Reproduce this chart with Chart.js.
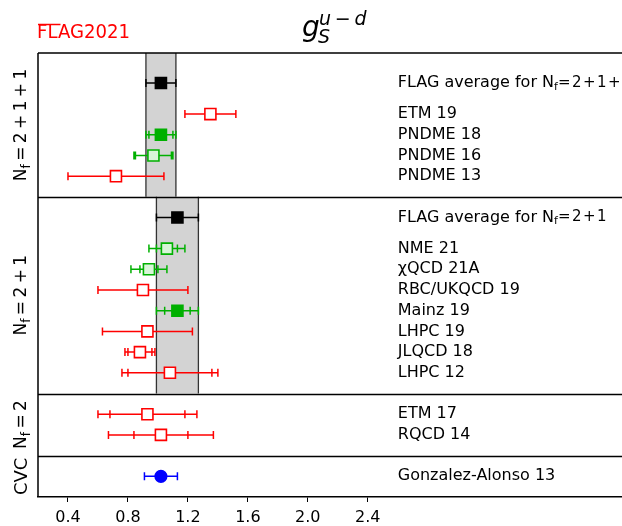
<!DOCTYPE html>
<html>
<head>
<meta charset="utf-8">
<script src="https://cdn.jsdelivr.net/npm/chart.js@4.4.0/dist/chart.umd.min.js"></script>
<style>
    html, body { margin: 0; padding: 0; background: #fff; overflow: hidden; }
    #wrap { width: 680px; height: 526px; position: relative; }
</style>
</head>
<body>
<div id="wrap"><canvas id="flag-chart" width="680" height="526"></canvas></div>
<script>
// Results, top to bottom
const names = ['FLAG average for N_f=2+1+1', 'ETM 19', 'PNDME 18', 'PNDME 16', 'PNDME 13',
    'FLAG average for N_f=2+1', 'NME 21', '\u03c7QCD 21A', 'RBC/UKQCD 19', 'Mainz 19', 'LHPC 19',
    'JLQCD 18', 'LHPC 12', 'ETM 17', 'RQCD 14', 'Gonzalez-Alonso 13'];
const rowPos = [20, 18.5, 17.5, 16.5, 15.5, 13.5, 12, 11, 10, 9, 8, 7, 6, 4, 3, 1];
const values = [1.02, 1.35, 1.02, 0.97, 0.72, 1.13, 1.06, 0.94, 0.90, 1.13, 0.93, 0.88, 1.08, 0.93, 1.02, 1.02];
const statErr = [null, null, 0.08, 0.12, null, null, 0.07, 0.06, null, 0.085, null, 0.08, 0.28, 0.25, 0.18, null];
const totalErr = [0.10, 0.17, 0.10, 0.13, 0.32, 0.14, 0.12, 0.12, 0.30, 0.14, 0.30, 0.10, 0.32, 0.33, 0.35, 0.11];
const markerKind = ['avg', 'red', 'greenFull', 'greenOpen', 'red', 'avg', 'greenOpen', 'greenOpen', 'red',
    'greenFull', 'red', 'red', 'red', 'red', 'red', 'blue'];

// Sections (bottom .. top in y units) and their side labels
const sectionLabels = [['N', 'f', '\u2009=\u20092\u2009+\u20091\u2009+\u20091'], ['N', 'f', '\u2009=\u20092\u2009+\u20091'], ['N', 'f', '\u2009=\u20092'], ['CVC']];
const sectionTop = [21.45, 14.5, 5, 2];
const sectionBottom = [14.5, 5, 2, 0];
const bandRows = [0, 5]; // FLAG averages that get a grey band
const tickValues = [0.4, 0.8, 1.2, 1.6, 2.0, 2.4];
const labelX = 2.6;

const FONT = 'DejaVu Sans';
const kindStyle = {
    avg:       { fill: '#000000', line: '#000000', shape: 'rect' },
    red:       { fill: '#ffffff', line: '#ff0000', shape: 'rect' },
    greenFull: { fill: '#00b000', line: '#00b000', shape: 'rect' },
    greenOpen: { fill: '#d8f5d8', line: '#00b000', shape: 'rect' },
    blue:      { fill: '#0000ff', line: '#0000ff', shape: 'circle' }
};

// draws a run of text pieces: [text, size, dy]
function drawPieces(ctx, pieces, x, y, centered) {
    let total = 0;
    pieces.forEach(p => { ctx.font = p[1] + 'px "' + FONT + '"'; total += ctx.measureText(p[0]).width; });
    let cx = centered ? x - total / 2 : x;
    ctx.textAlign = 'left';
    pieces.forEach(p => {
        ctx.font = p[1] + 'px "' + FONT + '"';
        ctx.fillText(p[0], cx, y + p[2]);
        cx += ctx.measureText(p[0]).width;
    });
}

const flagDecor = {
    id: 'flagDecor',
    beforeDatasetsDraw(chart) {
        const { ctx, chartArea: a, scales: { x, y } } = chart;
        ctx.save();
        // grey bands of the averages
        bandRows.forEach((r, i) => {
            const x0 = x.getPixelForValue(values[r] - totalErr[r]);
            const x1 = x.getPixelForValue(values[r] + totalErr[r]);
            const y0 = y.getPixelForValue(sectionTop[i]);
            const y1 = y.getPixelForValue(sectionBottom[i]);
            ctx.fillStyle = '#d3d3d3';
            ctx.fillRect(x0, y0, x1 - x0, y1 - y0);
            ctx.strokeStyle = '#333';
            ctx.lineWidth = 1.3;
            ctx.beginPath();
            ctx.moveTo(x0, y0); ctx.lineTo(x0, y1);
            ctx.moveTo(x1, y0); ctx.lineTo(x1, y1);
            ctx.stroke();
        });
        // section separators
        ctx.strokeStyle = '#000';
        ctx.lineWidth = 1.5;
        sectionBottom.slice(0, 3).forEach(v => {
            const py = Math.round(y.getPixelForValue(v)) + 0.5;
            ctx.beginPath(); ctx.moveTo(a.left, py); ctx.lineTo(a.right, py); ctx.stroke();
        });
        // error bars
        values.forEach((v, i) => {
            const col = kindStyle[markerKind[i]].line;
            const py = y.getPixelForValue(rowPos[i]);
            const lo = x.getPixelForValue(v - totalErr[i]);
            const hi = x.getPixelForValue(v + totalErr[i]);
            ctx.strokeStyle = col;
            ctx.lineWidth = 1.5;
            ctx.beginPath();
            ctx.moveTo(lo, py); ctx.lineTo(hi, py);
            const caps = [lo, hi];
            if (statErr[i] !== null) {
                caps.push(x.getPixelForValue(v - statErr[i]), x.getPixelForValue(v + statErr[i]));
            }
            caps.forEach(cx => { ctx.moveTo(cx, py - 4); ctx.lineTo(cx, py + 4); });
            ctx.stroke();
        });
        ctx.restore();
    },
    afterDraw(chart) {
        const { ctx, chartArea: a, scales: { x, y } } = chart;
        ctx.save();
        // top and left frame
        ctx.strokeStyle = '#000';
        ctx.lineWidth = 1.5;
        ctx.beginPath();
        ctx.moveTo(a.left, a.top); ctx.lineTo(a.right, a.top);
        ctx.moveTo(a.left, a.top); ctx.lineTo(a.left, a.bottom);
        ctx.stroke();

        // names of the results
        ctx.fillStyle = '#000';
        ctx.textBaseline = 'middle';
        const lx = x.getPixelForValue(labelX);
        names.forEach((n, i) => {
            const py = y.getPixelForValue(rowPos[i]);
            if (n.indexOf('N_f') >= 0) {
                const parts = n.split('N_f');
                drawPieces(ctx, [[parts[0] + 'N', 16, 0], ['f', 11, 4], [parts[1].split('').join('\u200a'), 15, 0]], lx, py, false);
            } else {
                ctx.font = '16px "' + FONT + '"';
                ctx.textAlign = 'left';
                ctx.fillText(n, lx, py);
            }
        });

        // section labels (rotated)
        sectionLabels.forEach((lab, i) => {
            const cy = (y.getPixelForValue(sectionTop[i]) + y.getPixelForValue(sectionBottom[i])) / 2;
            ctx.save();
            ctx.translate(22, cy);
            ctx.rotate(-Math.PI / 2);
            ctx.textBaseline = 'middle';
            if (lab.length === 3) {
                drawPieces(ctx, [[lab[0], 17, 0], [lab[1], 12, 5], [lab[2], 17, 0]], 0, 0, true);
            } else {
                drawPieces(ctx, [[lab[0], 18, 0]], 0, 0, true);
            }
            ctx.restore();
        });

        // FLAG logo
        ctx.fillStyle = '#ff0000';
        ctx.strokeStyle = '#ff0000';
        ctx.textBaseline = 'alphabetic';
        ctx.textAlign = 'left';
        ctx.font = '20px "' + FONT + '"';
        ctx.fillText('FLAG2021', 37, 38, 93);
        const flW = ctx.measureText('FL').width * (93 / ctx.measureText('FLAG2021').width);
        ctx.lineWidth = 1.5;
        ctx.beginPath(); ctx.moveTo(38, 24.5); ctx.lineTo(38 + flW + 2, 24.5); ctx.stroke();

        // title g_S^{u-d}
        ctx.fillStyle = '#000';
        ctx.font = 'italic 28px "' + FONT + '"';
        ctx.fillText('g', 302, 36);
        ctx.font = 'italic 19px "' + FONT + '"';
        ctx.fillText('S', 318, 43);
        ctx.fillText('u\u2009\u2212\u2009d', 319, 25);
        ctx.restore();
    }
};

const kinds = markerKind.map(k => kindStyle[k]);
new Chart(document.getElementById('flag-chart'), {
    type: 'scatter',
    data: {
        datasets: [{
            data: values.map((v, i) => ({ x: v, y: rowPos[i] })),
            pointStyle: kinds.map(k => k.shape),
            pointRadius: kinds.map(k => k.shape === 'circle' ? 5.8 : 7.8),
            pointBackgroundColor: kinds.map(k => k.fill),
            pointBorderColor: kinds.map(k => k.line),
            pointBorderWidth: 1.6
        }]
    },
    options: {
        responsive: false,
        animation: false,
        layout: { padding: { left: 38, top: 53, right: 0, bottom: 0 } },
        plugins: { legend: { display: false }, tooltip: { enabled: false } },
        scales: {
            x: {
                type: 'linear', min: 0.2, max: 4.42,
                afterBuildTicks: s => { s.ticks = tickValues.map(v => ({ value: v })); },
                afterFit: s => { s.height = 29; },
                ticks: { color: '#000', padding: 6, font: { family: FONT, size: 16 }, callback: v => v.toFixed(1) },
                grid: { drawOnChartArea: false, drawTicks: true, tickLength: 5, color: '#000', lineWidth: 1 },
                border: { display: true, color: '#000', width: 1.5 }
            },
            y: { type: 'linear', min: 0, max: 21.45, display: false }
        }
    },
    plugins: [flagDecor]
});
</script>
</body>
</html>
